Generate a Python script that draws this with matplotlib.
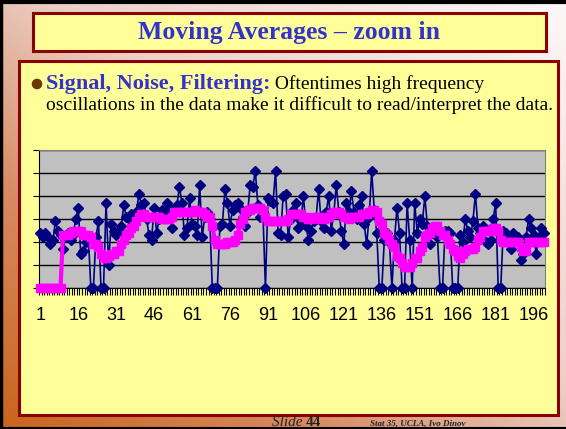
import matplotlib

matplotlib.use("Agg")
import matplotlib.pyplot as plt
import numpy as np
from matplotlib.colors import LinearSegmentedColormap
from matplotlib.patches import Circle, Rectangle

# data (arbitrary units, gridlines every 10)
DAYS = np.arange(1, 201)
SIGNAL = [
    24, 22, 24, 22, 19, 21, 29, 25, 23, 17,
    22, 24, 21, 23, 30, 35, 15, 16, 20, 22,
    0, 0, 22, 29, 0, 0, 37, 10, 28, 25,
    23, 25, 27, 36, 31, 30, 32, 29, 33, 41,
    36, 37, 30, 23, 21, 35, 24, 30, 34, 33,
    37, 35, 26, 34, 36, 44, 37, 23, 26, 39,
    28, 27, 23, 45, 22, 31, 33, 30, 0, 0,
    0, 27, 28, 43, 37, 27, 34, 36, 37, 35,
    31, 27, 33, 45, 44, 51, 36, 31, 33, 0,
    39, 38, 37, 51, 24, 23, 40, 41, 22, 30,
    34, 37, 26, 29, 40, 27, 21, 25, 29, 30,
    43, 29, 26, 33, 40, 25, 32, 45, 33, 25,
    19, 37, 33, 42, 33, 30, 36, 40, 28, 19,
    31, 51, 34, 24, 0, 0, 21, 24, 20, 0,
    21, 35, 24, 0, 0, 37, 21, 0, 37, 24,
    30, 28, 40, 27, 19, 24, 26, 22, 0, 0,
    25, 25, 24, 0, 0, 0, 23, 20, 30, 25,
    22, 29, 41, 26, 24, 27, 20, 19, 21, 30,
    37, 0, 0, 25, 24, 22, 17, 24, 21, 22,
    12, 15, 22, 30, 26, 23, 15, 22, 26, 24,
]
MOVING_AVG = [
    0, 0, 0, 0, 0, 0, 0, 0, 0, 23,
    23, 23, 24, 25, 25, 25, 25, 23, 23, 23,
    22, 19, 19, 18, 15, 13, 13, 14, 15, 15,
    16, 16, 19, 21, 23, 24, 26, 27, 29, 31,
    32, 32, 31, 31, 31, 31, 31, 31, 30, 30,
    30, 30, 31, 33, 33, 33, 33, 33, 33, 33,
    33, 34, 33, 33, 33, 32, 31, 31, 27, 21,
    19, 19, 19, 19, 20, 20, 20, 21, 23, 28,
    30, 33, 34, 34, 35, 35, 35, 35, 34, 31,
    29, 29, 29, 29, 29, 29, 29, 29, 30, 32,
    32, 32, 32, 32, 31, 31, 30, 30, 31, 31,
    31, 30, 30, 31, 31, 32, 33, 33, 33, 32,
    31, 31, 30, 31, 31, 31, 31, 32, 32, 32,
    33, 34, 34, 33, 29, 28, 24, 23, 21, 19,
    18, 14, 13, 11, 9, 9, 9, 11, 13, 13,
    16, 18, 22, 23, 24, 26, 27, 27, 25, 23,
    23, 21, 19, 17, 16, 14, 13, 15, 16, 17,
    17, 17, 18, 21, 22, 25, 25, 25, 25, 26,
    26, 25, 21, 20, 20, 20, 20, 20, 20, 20,
    18, 16, 16, 20, 20, 20, 20, 20, 20, 20,
]
TICK_DAYS = list(range(1, 197, 15))

TITLE = "Moving Averages \u2013 zoom in"
BULLET_HEAD = "Signal, Noise, Filtering:"
BULLET_TAIL = " Oftentimes high frequency"
BULLET_LINE2 = "oscillations in the data make it difficult to read/interpret the data."

W, H = 566, 429
SERIF = "Liberation Serif"
SANS = "Liberation Sans"
BOX_EDGE = "#8b0000"
BOX_FILL = "#ffff99"
BLUE_TEXT = "#3333cc"

fig = plt.figure(figsize=(W / 100, H / 100), dpi=100)

# slide background in pixel coordinates (y down)
bg = fig.add_axes([0, 0, 1, 1])
bg.set_xlim(0, W)
bg.set_ylim(H, 0)
bg.axis("off")

u = np.linspace(0, 1, 300)
v = np.linspace(0, 1, 230)
uu, vv = np.meshgrid(u, v)
shade = (uu + (1 - vv)) / 2
grad = LinearSegmentedColormap.from_list(
    "slide", [(0, "#c8641c"), (0.28, "#d88a62"), (0.55, "#ecd0c8"), (1, "#fcf8f8")]
)
bg.imshow(shade, cmap=grad, extent=(0, W, H, 0), aspect="auto", zorder=0)

# black frame on left, top and bottom
bg.plot([1, 1], [0, H], color="black", lw=2.5, zorder=1)
bg.plot([0, W], [1.5, 1.5], color="black", lw=3, zorder=1)
bg.plot([0, W], [428.3, 428.3], color="black", lw=1.5, zorder=1)

# title box
bg.add_patch(Rectangle((33, 13), 513, 38, facecolor=BOX_FILL,
                       edgecolor=BOX_EDGE, lw=2.2, zorder=2))
bg.text(289.5, 33, TITLE, ha="center", va="center", family=SERIF,
        fontweight="bold", fontsize=18.5, color=BLUE_TEXT, zorder=3)

# content box
bg.add_patch(Rectangle((19, 61), 539, 354, facecolor=BOX_FILL,
                       edgecolor=BOX_EDGE, lw=2.2, zorder=2))
bg.add_patch(Circle((37, 84), 4.6, color="#6b3a00", zorder=3))
head = bg.text(46, 89, BULLET_HEAD, ha="left", va="baseline", family=SERIF,
               fontweight="bold", fontsize=16, color=BLUE_TEXT, zorder=3)
fig.canvas.draw()
bb = head.get_window_extent()
x_tail = bg.transData.inverted().transform((bb.x1, bb.y0))[0]
bg.text(x_tail, 89, BULLET_TAIL, ha="left", va="baseline", family=SERIF,
        fontsize=14, color="black", zorder=3)
bg.text(46, 110, BULLET_LINE2, ha="left", va="baseline", family=SERIF,
        fontsize=14, color="black", zorder=3)

# footer
bg.text(272, 425.5, "Slide ", ha="left", va="baseline", family=SERIF,
        style="italic", fontsize=11, color="#222222", zorder=3)
bg.text(306, 425.5, "44", ha="left", va="baseline", family=SERIF,
        fontweight="bold", fontsize=11, color="#222222", zorder=3)
bg.text(370, 425.5, "Stat 35, UCLA, Ivo Dinov", ha="left", va="baseline",
        family=SERIF, style="italic", fontweight="bold", fontsize=6.5,
        color="#222222", zorder=3)

# the chart
ax = fig.add_axes([39 / W, 1 - 288 / H, 506 / W, 138 / H])
ax.set_facecolor("#c0c0c0")
ax.plot(DAYS, SIGNAL, color="#000080", lw=1.2, marker="D", ms=5.5,
        mfc="#000080", mec="#000080", zorder=3, clip_on=False)
ax.plot(DAYS, MOVING_AVG, color="#ff00ff", lw=3, marker="s", ms=6,
        mfc="#ff00ff", mec="#ff00ff", zorder=4, clip_on=False)

ax.set_xlim(0.5, 200.5)
ax.set_ylim(0, 60)
ax.set_yticks(np.arange(0, 61, 10))
ax.set_yticklabels([])
ax.grid(axis="y", color="black", lw=1)
ax.set_axisbelow(True)
ax.set_xticks(TICK_DAYS)
ax.set_xticklabels([str(d) for d in TICK_DAYS], family=SANS, fontsize=13)
ax.set_xticks(np.arange(0.5, 201, 1), minor=True)
ax.tick_params(axis="x", which="major", length=0, pad=14)
ax.tick_params(axis="x", which="minor", length=5, width=0.8, color="black")
ax.tick_params(axis="y", length=4, width=0.8, color="black")
for side in ("top", "right"):
    ax.spines[side].set_color("#808080")
for side in ("left", "bottom"):
    ax.spines[side].set_color("black")

fig.savefig("out.png", dpi=100)
